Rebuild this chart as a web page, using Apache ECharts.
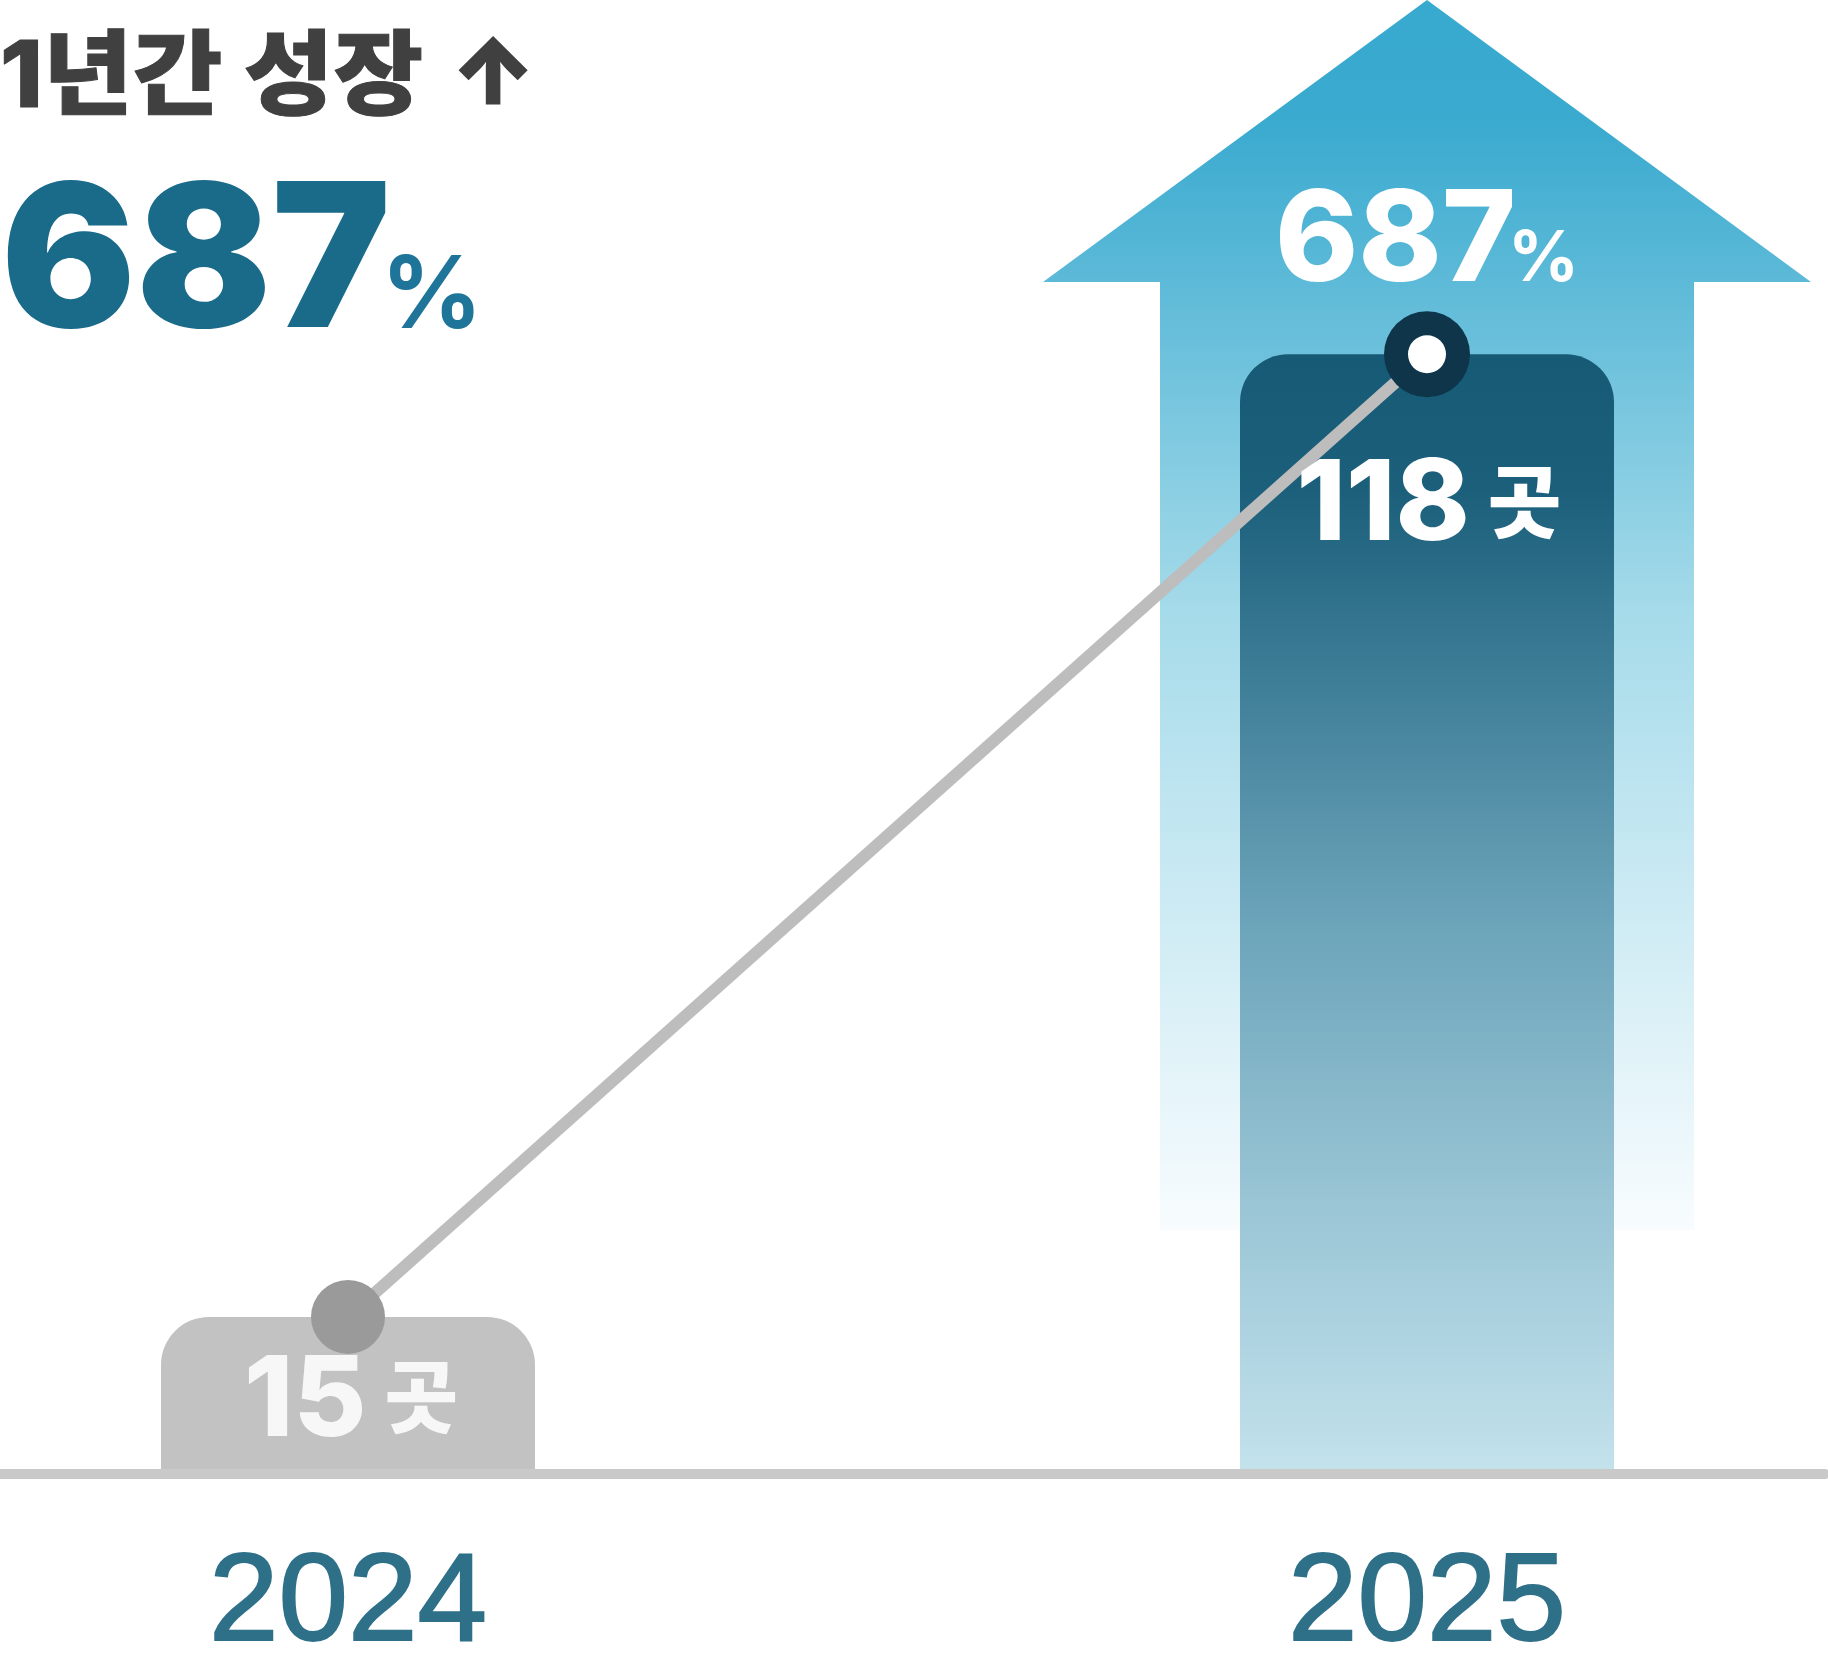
<!DOCTYPE html>
<html>
<head>
<meta charset="utf-8">
<title>1년간 성장</title>
<style>
  html, body { margin: 0; padding: 0; background: #fff; }
  #main { width: 1828px; height: 1675px; }
</style>
<script src="https://cdn.jsdelivr.net/npm/echarts@6/dist/echarts.min.js"></script>
</head>
<body>
<div id="main"></div>
<script>
var years = ['2024', '2025'];
var places = [15, 118];
var unit = '곳';
var growth = '687';
var growthUnit = '%';
var heading = '1년간 성장';
// 화살표 위/아래 끝 (y축 값 기준)
var arrowTop = [155.9];
var arrowFoot = [24.3];

var sans = 'Inter, "Noto Sans CJK KR", sans-serif';
var cjk = '"Noto Sans CJK KR", Inter, sans-serif';

var myChart = echarts.init(document.getElementById('main'), null, { renderer: 'canvas' });

var option = {
    animation: false,
    backgroundColor: '#ffffff',
    grid: [
        { left: -191.5, width: 2158, top: 0, bottom: 202, outerBoundsMode: 'none' },
        { left: 0, width: 1825, top: 1473, height: 1, outerBoundsMode: 'none' }
    ],
    xAxis: [
        {
            type: 'category',
            data: years,
            axisTick: { show: false },
            axisLine: { show: false },
            axisLabel: {
                margin: 70,
                fontSize: 125,
                fontFamily: '"Liberation Sans", Arial, sans-serif',
                color: '#2f7089',
                textBorderColor: '#2f7089',
                textBorderWidth: 2
            }
        },
        {
            type: 'value',
            gridIndex: 1,
            z: 5,
            axisLabel: { show: false },
            axisTick: { show: false },
            splitLine: { show: false },
            axisLine: { show: true, onZero: false, lineStyle: { color: '#c9c9c9', width: 10 } }
        }
    ],
    yAxis: [
        { type: 'value', min: -1.7, max: 155.9, startValue: -1.7, show: false },
        { type: 'value', gridIndex: 1, show: false }
    ],
    series: [
        {
            name: '화살표',
            type: 'custom',
            z: 1,
            silent: true,
            clip: false,
            data: [[1, arrowTop[0], arrowFoot[0]]],
            renderItem: function (params, api) {
                var tip = api.coord([api.value(0), api.value(1)]);
                var foot = api.coord([api.value(0), api.value(2)]);
                var cx = tip[0], headW = 384, shaftW = 267, headH = 282;
                return {
                    type: 'polygon',
                    shape: {
                        points: [
                            [cx, tip[1]],
                            [cx + headW, tip[1] + headH],
                            [cx + shaftW, tip[1] + headH],
                            [cx + shaftW, foot[1]],
                            [cx - shaftW, foot[1]],
                            [cx - shaftW, tip[1] + headH],
                            [cx - headW, tip[1] + headH]
                        ]
                    },
                    style: {
                        fill: new echarts.graphic.LinearGradient(0, 0, 0, 1, [
                            { offset: 0, color: '#38a9cf' },
                            { offset: 0.1, color: '#3aaacf' },
                            { offset: 0.5, color: '#a6dbea' },
                            { offset: 1, color: '#f8fcfe' }
                        ])
                    }
                };
            }
        },
        {
            name: '개소',
            type: 'bar',
            z: 2,
            barWidth: 374,
            silent: true,
            data: places.map(function (v, i) {
                return {
                    value: v,
                    itemStyle: {
                        borderRadius: [48, 48, 0, 0],
                        color: i === 0 ? '#c2c2c2' : new echarts.graphic.LinearGradient(0, 0, 0, 1, [
                            { offset: 0, color: '#175a75' },
                            { offset: 0.12, color: '#1b5f7b' },
                            { offset: 0.5, color: '#6aa3b9' },
                            { offset: 0.75, color: '#98c4d4' },
                            { offset: 1, color: '#c3e2ec' }
                        ])
                    }
                };
            })
        },
        {
            name: '추세',
            type: 'line',
            z: 3,
            silent: true,
            symbol: 'circle',
            lineStyle: { color: '#bdbdbd', width: 12 },
            data: places.map(function (v, i) {
                return {
                    value: v,
                    symbolSize: i === 0 ? 74 : 86,
                    itemStyle: { color: i === 0 ? '#9a9a9a' : '#0e3549' }
                };
            })
        },
        {
            name: '점',
            type: 'scatter',
            z: 4,
            silent: true,
            symbolSize: 38,
            itemStyle: { color: '#ffffff', opacity: 1 },
            data: [null, places[1]]
        },
        {
            name: '라벨',
            type: 'scatter',
            z: 6,
            silent: true,
            symbolSize: 1,
            itemStyle: { color: 'transparent', opacity: 1 },
            data: places.map(function (v, i) {
                var c = i === 0 ? '#f7f7f7' : '#ffffff';
                return {
                    value: v,
                    label: {
                        show: true,
                        position: 'inside',
                        offset: i === 0 ? [3, 85] : [2, 152],
                        formatter: '{n|' + v + '}{u|' + unit + '}',
                        rich: {
                            n: { fontFamily: sans, fontWeight: 800, fontSize: 112, color: c, padding: [0, 18, 0, 0], verticalAlign: 'middle' },
                            u: { fontFamily: cjk, fontWeight: 900, fontSize: 80, color: c, padding: [0, 0, 12, 0], verticalAlign: 'middle' }
                        }
                    }
                };
            })
        }
    ],
    graphic: [
        { type: 'text', x: 0, y: 33, scaleX: 1.06, z: 10, style: { text: heading, font: '800 92px ' + sans, fill: '#404040', stroke: '#404040', lineWidth: 1, textBaseline: 'top' } },
        { type: 'text', x: 452, y: 33, z: 10, style: { text: '↑', font: '800 88px ' + sans, fill: '#404040', stroke: '#404040', lineWidth: 3, textBaseline: 'top' } },
        { type: 'text', x: 1, y: 167, z: 10, style: { text: growth, font: '900 200px ' + sans, fill: '#1a6a8a', textBaseline: 'top' } },
        { type: 'text', x: 381, y: 248, z: 10, style: { text: growthUnit, font: '700 100px ' + sans, fill: '#1f7599', textBaseline: 'top' } },
        { type: 'text', x: 1275, y: 180, z: 10, style: { text: growth, font: '800 126px ' + sans, fill: '#ffffff', textBaseline: 'top' } },
        { type: 'text', x: 1508, y: 225, z: 10, style: { text: growthUnit, font: '700 70px ' + sans, fill: '#ffffff', textBaseline: 'top' } }
    ]
};
myChart.setOption(option);
</script>
</body>
</html>
